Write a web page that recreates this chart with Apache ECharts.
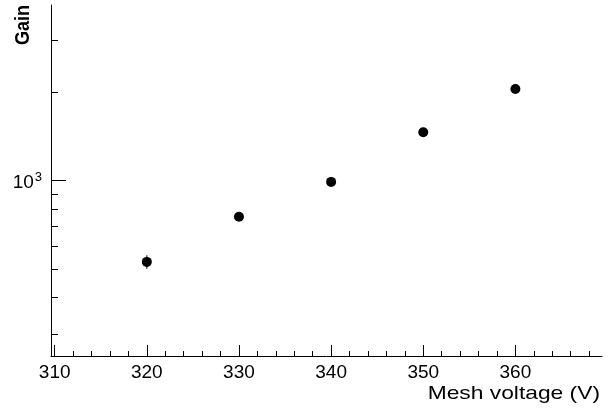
<!DOCTYPE html>
<html>
<head>
<meta charset="utf-8">
<script src="https://cdn.jsdelivr.net/npm/echarts@6/dist/echarts.min.js"></script>
<style>
  html, body { margin: 0; padding: 0; background: #fff; }
  #chart { width: 614px; height: 409px; }
</style>
</head>
<body>
<div id="chart"></div>
<script>
// gain vs mesh voltage
var voltage = [320, 330, 340, 350, 360];
var gain = [529, 753, 990, 1460, 2051];
var gainErr = [28, 10, 10, 12, 15];

var xMajor = [310, 320, 330, 340, 350, 360];
var xMinor = [312, 314, 316, 318, 322, 324, 326, 328, 332, 334, 336, 338,
  342, 344, 346, 348, 352, 354, 356, 358, 362, 364, 366, 368];
var yMajor = [1000];
var yMinor = [300, 400, 500, 600, 700, 800, 900, 2000, 3000];

var xMin = 309.6, xMax = 369.4;
var yMin = 253, yMax = 3960;
var font = '"Liberation Sans", Arial, sans-serif';

var chart = echarts.init(document.getElementById('chart'), null, {renderer: 'canvas'});

var pts = voltage.map(function (v, i) { return [v, gain[i], gainErr[i]]; });

var option = {
  animation: false,
  backgroundColor: '#fff',
  grid: {left: 51, right: 12, top: 5, bottom: 53},
  xAxis: [
    {
      type: 'value', min: xMin, max: xMax, position: 'bottom',
      axisLine: {show: true, lineStyle: {color: '#000', width: 1}},
      axisTick: {show: true, inside: true, length: 11, customValues: xMajor,
        lineStyle: {color: '#000'}},
      axisLabel: {show: true, customValues: xMajor, margin: 7,
        color: '#000', fontSize: 19, fontFamily: font},
      splitLine: {show: false}
    },
    {
      type: 'value', min: xMin, max: xMax, position: 'bottom', gridIndex: 0,
      axisLine: {show: false},
      axisTick: {show: true, inside: true, length: 5, customValues: xMinor,
        lineStyle: {color: '#000'}},
      axisLabel: {show: false},
      splitLine: {show: false}
    }
  ],
  yAxis: [
    {
      type: 'log', logBase: 10, min: yMin, max: yMax, position: 'left',
      axisLine: {show: true, lineStyle: {color: '#000', width: 1}},
      axisTick: {show: true, inside: true, length: 15, customValues: yMajor,
        lineStyle: {color: '#000'}},
      axisLabel: {
        show: true, customValues: yMajor, margin: 9,
        formatter: function (v) {
          return '{b|10}{s|' + Math.round(Math.log10(v)) + '}';
        },
        rich: {
          b: {fontSize: 19, fontFamily: font, color: '#000', padding: [4, 0, 0, 0]},
          s: {fontSize: 13, fontFamily: font, color: '#000', padding: [0, 0, 6, 1]}
        }
      },
      splitLine: {show: false}
    },
    {
      type: 'log', logBase: 10, min: yMin, max: yMax, position: 'left',
      axisLine: {show: false},
      axisTick: {show: true, inside: true, length: 7, customValues: yMinor,
        lineStyle: {color: '#000'}},
      axisLabel: {show: false},
      splitLine: {show: false}
    }
  ],
  graphic: [
    {
      type: 'text', left: 13, top: 5, rotation: Math.PI / 2, scaleY: 1.12,
      style: {text: 'Gain', font: 'bold 18px ' + font, fill: '#000'}
    },
    {
      type: 'text', right: 14, top: 384, scaleX: 1.2,
      style: {text: 'Mesh voltage (V)', font: '19px ' + font, fill: '#000'}
    }
  ],
  series: [
    {
      type: 'custom',
      data: pts,
      z: 1,
      renderItem: function (params, api) {
        var x = api.value(0), y = api.value(1), e = api.value(2);
        var top = api.coord([x, y + e]);
        var bot = api.coord([x, y - e]);
        return {
          type: 'line',
          shape: {x1: top[0], y1: top[1], x2: bot[0], y2: bot[1]},
          style: {stroke: '#000', lineWidth: 1}
        };
      }
    },
    {
      type: 'scatter',
      data: pts,
      symbol: 'circle',
      symbolSize: 10,
      z: 2,
      itemStyle: {color: '#000', opacity: 1}
    }
  ]
};

chart.setOption(option);
</script>
</body>
</html>
